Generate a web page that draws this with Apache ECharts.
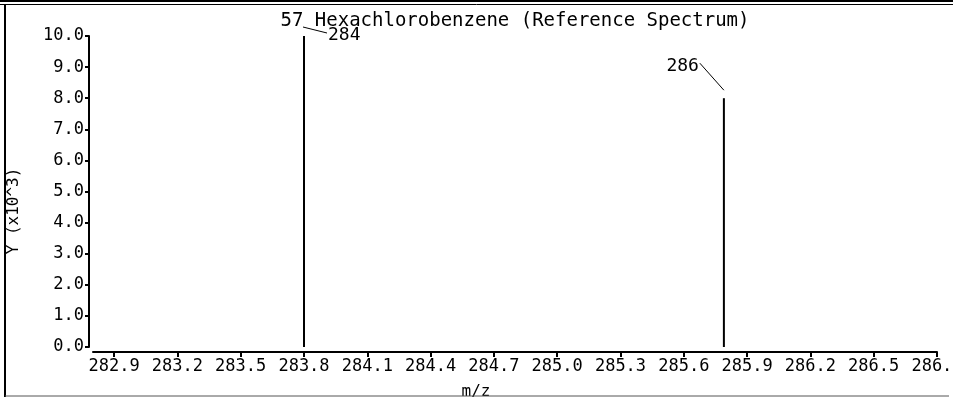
<!DOCTYPE html>
<html>
<head>
<meta charset="utf-8">
<script src="https://cdn.jsdelivr.net/npm/echarts@6/dist/echarts.min.js"></script>
<style>
html,body{margin:0;padding:0;background:#fff;overflow:hidden;}
#chart{width:953px;height:397px;}
</style>
</head>
<body>
<div id="chart"></div>
<script>
// ---- data ----
const titleText = '57 Hexachlorobenzene (Reference Spectrum)';
const xAxisName = 'm/z';
const yAxisName = 'Y (x10^3)';
const mzValues = [283.8, 285.79];
const intensities = [10.0, 8.0];
const peakLabels = ['284', '286'];
const xTickValues = [282.9, 283.2, 283.5, 283.8, 284.1, 284.4, 284.7, 285.0, 285.3, 285.6, 285.9, 286.2, 286.5, 286.8];
const xMin = 282.8, xMax = 286.8;
const yMin = 0, yMax = 10, yInterval = 1;

// ---- styles (label leader offsets, px relative to peak top) ----
const leaderStyles = [
  { start: [-1, -9], end: [23, -3], text: [24, -1], align: 'left' },
  { start: [0, -8], end: [-24, -35], text: [-25, -32], align: 'right' }
];

const FONT = 'DejaVu Sans Mono';
const chart = echarts.init(document.getElementById('chart'), null, { renderer: 'canvas' });

const seriesData = mzValues.map((m, i) => [m, intensities[i]]);

const option = {
  backgroundColor: '#fff',
  animation: false,
  title: [
    { text: titleText, left: 510, top: 7, textAlign: 'center',
      textStyle: { fontFamily: FONT, fontSize: 19, fontWeight: 'normal', color: '#000' } },
    { text: xAxisName, left: 471, top: 379, textAlign: 'center',
      textStyle: { fontFamily: FONT, fontSize: 16, fontWeight: 'normal', color: '#000' } }
  ],
  grid: { left: 93, right: 16, top: 36, bottom: 50, containLabel: false, outerBoundsMode: 'none' },
  xAxis: {
    type: 'value', min: xMin, max: xMax, offset: 5,
    axisLine: { show: true, onZero: false, lineStyle: { color: '#000', width: 2 } },
    axisTick: { show: true, inside: false, length: 5, customValues: xTickValues, lineStyle: { color: '#000', width: 2 } },
    axisLabel: { show: true, customValues: xTickValues, margin: 6, color: '#000', fontFamily: FONT, fontSize: 17,
      formatter: v => v.toFixed(1), hideOverlap: false },
    splitLine: { show: false }
  },
  yAxis: {
    type: 'value', min: yMin, max: yMax, interval: yInterval, offset: 4,
    axisLine: { show: true, onZero: false, lineStyle: { color: '#000', width: 2 } },
    axisTick: { show: true, length: 4, lineStyle: { color: '#000', width: 2 } },
    axisLabel: { color: '#000', fontFamily: FONT, fontSize: 17, margin: 5, formatter: v => v.toFixed(1) },
    splitLine: { show: false }
  },
  series: [{
    type: 'custom',
    data: seriesData,
    clip: false,
    renderItem: function (params, api) {
      const x = api.value(0), y = api.value(1);
      const top = api.coord([x, y]);
      const base = api.coord([x, 0]);
      const s = leaderStyles[params.dataIndex];
      return {
        type: 'group',
        children: [
          { type: 'line', shape: { x1: base[0], y1: base[1], x2: top[0], y2: top[1] },
            style: { stroke: '#000', lineWidth: 2 } },
          { type: 'line', shape: { x1: top[0] + s.start[0], y1: top[1] + s.start[1], x2: top[0] + s.end[0], y2: top[1] + s.end[1] },
            style: { stroke: '#000', lineWidth: 1 } },
          { type: 'text', x: top[0] + s.text[0], y: top[1] + s.text[1],
            style: { text: peakLabels[params.dataIndex], fill: '#000', font: '18px "' + FONT + '"', align: s.align, verticalAlign: 'middle' } }
        ]
      };
    }
  }],
  graphic: [
    { type: 'text', x: 14, y: 211, rotation: Math.PI / 2,
      style: { text: yAxisName, fill: '#000', font: '16px "' + FONT + '"', align: 'center', verticalAlign: 'middle' } },
    { type: 'rect', z: 100, shape: { x: 949, y: 0, width: 10, height: 397 }, style: { fill: '#fff' } },
    { type: 'line', z: 101, shape: { x1: 0, y1: 1, x2: 953, y2: 1 }, style: { stroke: '#000', lineWidth: 2 } },
    { type: 'line', z: 101, shape: { x1: 0, y1: 4.5, x2: 953, y2: 4.5 }, style: { stroke: '#000', lineWidth: 1 } },
    { type: 'line', z: 101, shape: { x1: 5, y1: 4, x2: 5, y2: 397 }, style: { stroke: '#000', lineWidth: 2 } },
    { type: 'line', z: 101, shape: { x1: 5, y1: 396, x2: 949, y2: 396 }, style: { stroke: '#555', lineWidth: 1 } }
  ]
};
chart.setOption(option);
</script>
</body>
</html>
